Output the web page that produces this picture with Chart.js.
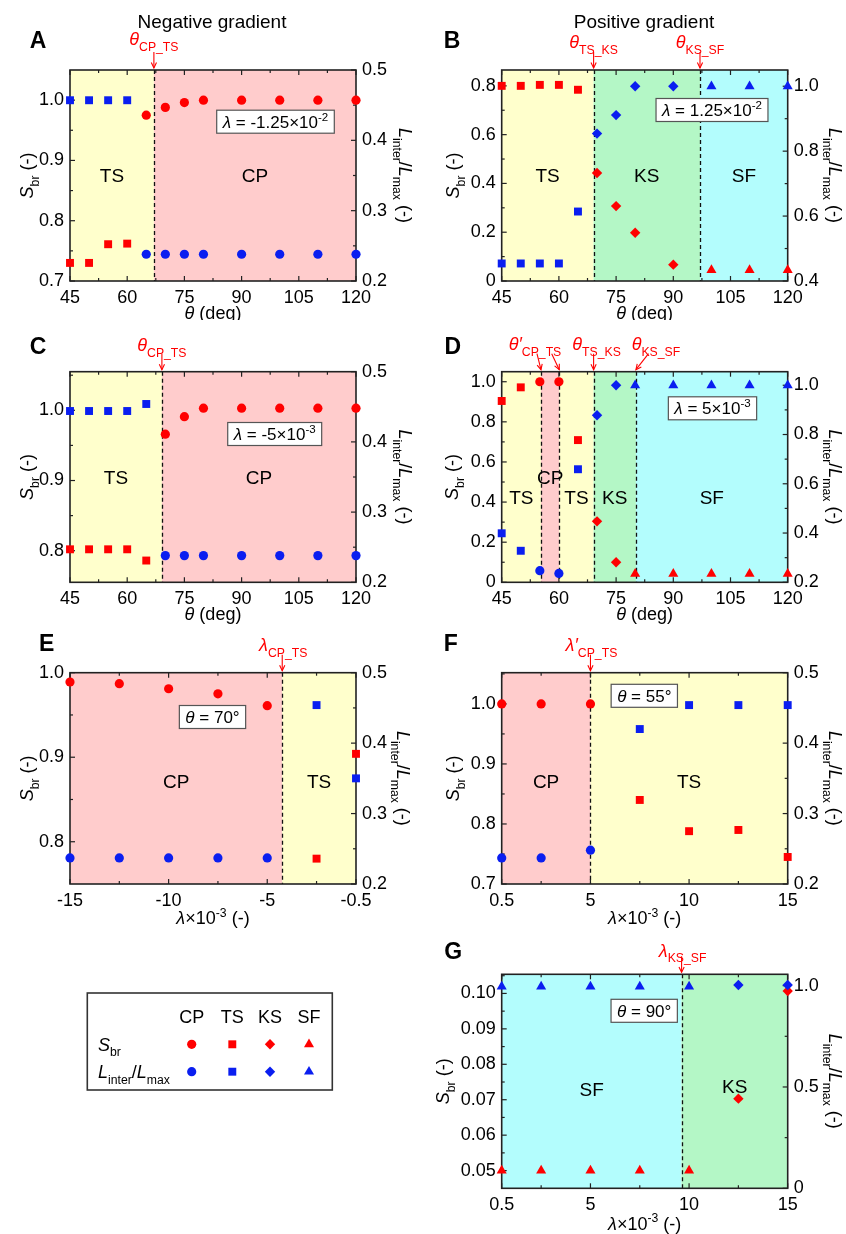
<!DOCTYPE html>
<html>
<head>
<meta charset="utf-8">
<script src="https://cdn.jsdelivr.net/npm/chart.js@4.4.0/dist/chart.umd.min.js"></script>
<style>
  body { margin: 0; background: #fff; width: 846px; height: 1234px; position: relative; overflow: hidden; }
  canvas { position: absolute; }
</style>
</head>
<body>
<canvas id="cA"></canvas>
<canvas id="cB"></canvas>
<canvas id="cC"></canvas>
<canvas id="cD"></canvas>
<canvas id="cE"></canvas>
<canvas id="cF"></canvas>
<canvas id="cG"></canvas>
<canvas id="cLegend"></canvas>
<script>
// ---- data ----
const thetaTicks = [45, 60, 75, 90, 105, 120];
const thetaMinor = [52.5, 67.5, 82.5, 97.5, 112.5];
const lamNegTicks = [-15, -10, -5, -0.5];
const lamNegMinor = [-12.5, -7.5, -2.5];
const lamPosTicks = [0.5, 5, 10, 15];
const lamPosMinor = [2.5, 7.5, 12.5];

// A: negative gradient, lambda = -1.25e-2
const thetaA = [45, 50, 55, 60, 65, 70, 75, 80, 90, 100, 110, 120];
const sbrA = [0.730, 0.730, 0.761, 0.762, 0.975, 0.988, 0.996, 1.0, 1.0, 1.0, 1.0, 1.0];
const lenA = [0.457, 0.457, 0.457, 0.457, 0.238, 0.238, 0.238, 0.238, 0.238, 0.238, 0.238, 0.238];
const phaseA = ['TS', 'TS', 'TS', 'TS', 'CP', 'CP', 'CP', 'CP', 'CP', 'CP', 'CP', 'CP'];
const boundA = [67];
const zoneA = ['TS', 'CP'];
const sbrTicksA = [0.7, 0.8, 0.9, 1.0];
const lenTicksA = [0.2, 0.3, 0.4, 0.5];

// B: positive gradient, lambda = 1.25e-2
const thetaB = [45, 50, 55, 60, 65, 70, 75, 80, 90, 100, 110, 120];
const sbrB = [0.800, 0.800, 0.804, 0.804, 0.784, 0.443, 0.307, 0.198, 0.067, 0.045, 0.045, 0.045];
const lenB = [0.454, 0.454, 0.454, 0.454, 0.614, 0.854, 0.911, 1.0, 1.0, 1.0, 1.0, 1.0];
const phaseB = ['TS', 'TS', 'TS', 'TS', 'TS', 'KS', 'KS', 'KS', 'KS', 'SF', 'SF', 'SF'];
const boundB = [69.1, 97];
const zoneB = ['TS', 'KS', 'SF'];
const sbrTicksB = [0, 0.2, 0.4, 0.6, 0.8];
const lenTicksB = [0.4, 0.6, 0.8, 1.0];

// C: negative gradient, lambda = -5e-3
const thetaC = [45, 50, 55, 60, 65, 70, 75, 80, 90, 100, 110, 120];
const sbrC = [0.802, 0.802, 0.802, 0.802, 0.786, 0.966, 0.991, 1.003, 1.003, 1.003, 1.003, 1.003];
const lenC = [0.444, 0.444, 0.444, 0.444, 0.454, 0.238, 0.238, 0.238, 0.238, 0.238, 0.238, 0.238];
const phaseC = ['TS', 'TS', 'TS', 'TS', 'TS', 'CP', 'CP', 'CP', 'CP', 'CP', 'CP', 'CP'];
const boundC = [69.1];
const zoneC = ['TS', 'CP'];
const sbrTicksC = [0.8, 0.9, 1.0];
const lenTicksC = [0.2, 0.3, 0.4, 0.5];

// D: positive gradient, lambda = 5e-3
const thetaD = [45, 50, 55, 60, 65, 70, 75, 80, 90, 100, 110, 120];
const sbrD = [0.904, 0.972, 1.0, 1.0, 0.709, 0.304, 0.100, 0.042, 0.042, 0.042, 0.042, 0.042];
const lenD = [0.399, 0.328, 0.247, 0.236, 0.659, 0.878, 1.0, 1.0, 1.0, 1.0, 1.0, 1.0];
const phaseD = ['TS', 'TS', 'CP', 'CP', 'TS', 'KS', 'KS', 'SF', 'SF', 'SF', 'SF', 'SF'];
const boundD = [55.3, 60.1, 69.1, 80.2];
const zoneD = ['TS', 'CP', 'TS', 'KS', 'SF'];
const sbrTicksD = [0, 0.2, 0.4, 0.6, 0.8, 1.0];
const lenTicksD = [0.2, 0.4, 0.6, 0.8, 1.0];

// E: theta = 70 deg, negative lambda
const lamE = [-15, -12.5, -10, -7.5, -5, -2.5, -0.5];
const sbrE = [0.989, 0.987, 0.981, 0.975, 0.961, 0.780, 0.904];
const lenE = [0.237, 0.237, 0.237, 0.237, 0.237, 0.454, 0.350];
const phaseE = ['CP', 'CP', 'CP', 'CP', 'CP', 'TS', 'TS'];
const boundE = [-4.24];
const zoneE = ['CP', 'TS'];
const sbrTicksE = [0.8, 0.9, 1.0];
const lenTicksE = [0.2, 0.3, 0.4, 0.5];

// F: theta = 55 deg, positive lambda
const lamF = [0.5, 2.5, 5, 7.5, 10, 12.5, 15];
const sbrF = [1.0, 1.0, 1.0, 0.840, 0.788, 0.790, 0.745];
const lenF = [0.237, 0.237, 0.248, 0.420, 0.454, 0.454, 0.454];
const phaseF = ['CP', 'CP', 'CP', 'TS', 'TS', 'TS', 'TS'];
const boundF = [5];
const zoneF = ['CP', 'TS'];
const sbrTicksF = [0.7, 0.8, 0.9, 1.0];
const lenTicksF = [0.2, 0.3, 0.4, 0.5];

// G: theta = 90 deg, positive lambda
const lamG = [0.5, 2.5, 5, 7.5, 10, 12.5, 15];
const sbrG = [0.050, 0.050, 0.050, 0.050, 0.050, 0.0703, 0.1007];
const lenG = [0.995, 0.995, 0.995, 0.995, 0.995, 1.003, 1.003];
const phaseG = ['SF', 'SF', 'SF', 'SF', 'SF', 'KS', 'KS'];
const boundG = [9.62];
const zoneG = ['SF', 'KS'];
const sbrTicksG = [0.05, 0.06, 0.07, 0.08, 0.09, 0.10];
const lenTicksG = [0, 0.5, 1.0];

// ---- styling ----
const FONT = '"Liberation Sans", Arial, Helvetica, sans-serif';
const RED = '#ff0000';
const BLUE = '#0a1ef0';
const PHASE_FILL = { CP: '#ffcccc', TS: '#ffffcc', KS: '#b4f7c6', SF: '#b3fdfd' };
const PHASE_STYLE = { CP: 'circle', TS: 'rect', KS: 'rectRot', SF: 'triangle' };
const PHASE_SIZE = { CP: 4.6, TS: 5.6, KS: 5.2, SF: 5.8 };

const I = t => [t, 'i'];
const N = t => [t, ''];
const SB = t => [t, 'b'];
const SP = t => [t, 'p'];
const thetaLbl = (s, prime) => [I(prime ? 'θ′' : 'θ'), SB(s)];
const lamLbl = (s, prime) => [I(prime ? 'λ′' : 'λ'), SB(s)];
const lamNote = (m, e) => [I('λ'), N(' = ' + m + '×10'), SP(e)];
const thetaNote = v => [I('θ'), N(' = ' + v + '°')];
const sbrTitle = [I('S'), SB('br'), N(' (-)')];
const lenTitle = [I('L'), SB('inter'), N('/'), I('L'), SB('max'), N(' (-)')];
const thetaTitle = [I('θ'), N(' (deg)')];
const lamTitle = [I('λ'), N('×10'), SP('-3'), N(' (-)')];

const panels = [
  { id: 'cA', box: [0, 0, 423, 320], plot: [70, 70, 356, 281],
    xs: thetaA, sbr: sbrA, len: lenA, phase: phaseA, bounds: boundA, zones: zoneA, zoneDy: [0, 0],
    xr: [45, 120], xt: thetaTicks, xm: thetaMinor,
    yr: [0.7, 1.05], yt: sbrTicksA, yd: 1, y2r: [0.2, 0.5], y2t: lenTicksA, y2d: 1,
    marks: [{ at: 67, dx: 0, label: thetaLbl('CP_TS'), arrows: [[67, 0]] }], markY: -31,
    note: { parts: lamNote('-1.25', '-2'), cx: 275.5, cy: 121.7 },
    letter: ['A', 38, 42], head: ['Negative gradient', 212, 21],
    xTitle: thetaTitle, xTitleDy: 32, lTitleX: 27, rTitleX: 405 },
  { id: 'cB', box: [423, 0, 846, 320], plot: [501.7, 70, 787.7, 281],
    xs: thetaB, sbr: sbrB, len: lenB, phase: phaseB, bounds: boundB, zones: zoneB, zoneDy: [0, 0, 0],
    xr: [45, 120], xt: thetaTicks, xm: thetaMinor,
    yr: [0, 0.865], yt: sbrTicksB, yd: 1, y2r: [0.4, 1.05], y2t: lenTicksB, y2d: 1,
    marks: [{ at: 69.1, dx: 0, label: thetaLbl('TS_KS'), arrows: [[69.1, 0]] },
            { at: 97, dx: 0, label: thetaLbl('KS_SF'), arrows: [[97, 0]] }], markY: -28,
    note: { parts: lamNote('1.25', '-2'), cx: 712, cy: 110 },
    letter: ['B', 452, 42], head: ['Positive gradient', 644, 21],
    xTitle: thetaTitle, xTitleDy: 32, lTitleX: 453, rTitleX: 835 },
  { id: 'cC', box: [0, 320, 423, 630], plot: [70, 371.7, 356, 582.3],
    xs: thetaC, sbr: sbrC, len: lenC, phase: phaseC, bounds: boundC, zones: zoneC, zoneDy: [0, 0],
    xr: [45, 120], xt: thetaTicks, xm: thetaMinor,
    yr: [0.755, 1.055], yt: sbrTicksC, yd: 1, y2r: [0.2, 0.5], y2t: lenTicksC, y2d: 1,
    marks: [{ at: 69.1, dx: 0, label: thetaLbl('CP_TS'), arrows: [[69.1, 0]] }], markY: -27,
    note: { parts: lamNote('-5', '-3'), cx: 274.7, cy: 434 },
    letter: ['C', 38, 348],
    xTitle: thetaTitle, xTitleDy: 31, lTitleX: 27, rTitleX: 405 },
  { id: 'cD', box: [423, 320, 846, 630], plot: [501.7, 371.7, 787.7, 582.3],
    xs: thetaD, sbr: sbrD, len: lenD, phase: phaseD, bounds: boundD, zones: zoneD, zoneDy: [20, 0, 20, 20, 20],
    xr: [45, 120], xt: thetaTicks, xm: thetaMinor,
    yr: [0, 1.05], yt: sbrTicksD, yd: 1, y2r: [0.2, 1.055], y2t: lenTicksD, y2d: 1,
    marks: [{ at: 55.3, dx: -6, label: thetaLbl('CP_TS', true), arrows: [[55.3, -4], [60.1, -7.6]] },
            { at: 69.1, dx: 3, label: thetaLbl('TS_KS'), arrows: [[69.1, 0]] },
            { at: 80.2, dx: 20, label: thetaLbl('KS_SF'), arrows: [[80.2, 12.6]] }], markY: -28,
    note: { parts: lamNote('5', '-3'), cx: 712.5, cy: 408.3 },
    letter: ['D', 452.7, 348],
    xTitle: thetaTitle, xTitleDy: 31, lTitleX: 452, rTitleX: 835 },
  { id: 'cE', box: [0, 630, 423, 940], plot: [70, 672.7, 356, 884],
    xs: lamE, sbr: sbrE, len: lenE, phase: phaseE, bounds: boundE, zones: zoneE, zoneDy: [3, 3],
    xr: [-15, -0.5], xt: lamNegTicks, xm: lamNegMinor,
    yr: [0.75, 1.0], yt: sbrTicksE, yd: 1, y2r: [0.2, 0.5], y2t: lenTicksE, y2d: 1,
    marks: [{ at: -4.24, dx: 1, label: lamLbl('CP_TS'), arrows: [[-4.24, 0]] }], markY: -28,
    note: { parts: thetaNote('70'), cx: 212.5, cy: 717 },
    letter: ['E', 46.7, 645],
    xTitle: lamTitle, xTitleDy: 34, lTitleX: 27, rTitleX: 403 },
  { id: 'cF', box: [423, 630, 846, 940], plot: [501.7, 672.7, 787.7, 884],
    xs: lamF, sbr: sbrF, len: lenF, phase: phaseF, bounds: boundF, zones: zoneF, zoneDy: [3, 3],
    xr: [0.5, 15], xt: lamPosTicks, xm: lamPosMinor,
    yr: [0.7, 1.052], yt: sbrTicksF, yd: 1, y2r: [0.2, 0.5], y2t: lenTicksF, y2d: 1,
    marks: [{ at: 5, dx: 1, label: lamLbl('CP_TS', true), arrows: [[5, 0]] }], markY: -28,
    note: { parts: thetaNote('55'), cx: 644.3, cy: 695.8 },
    letter: ['F', 450.7, 645],
    xTitle: lamTitle, xTitleDy: 34, lTitleX: 453, rTitleX: 835 },
  { id: 'cG', box: [423, 940, 846, 1234], plot: [501.7, 974.3, 787.7, 1188.3],
    xs: lamG, sbr: sbrG, len: lenG, phase: phaseG, bounds: boundG, zones: zoneG, zoneDy: [8, 5],
    xr: [0.5, 15], xt: lamPosTicks, xm: lamPosMinor,
    yr: [0.045, 0.1054], yt: sbrTicksG, yd: 2, y2r: [0, 1.056], y2t: lenTicksG, y2d: 1,
    marks: [{ at: 9.62, dx: 1, label: lamLbl('KS_SF'), arrows: [[9.62, 0]] }], markY: -24,
    note: { parts: thetaNote('90'), cx: 644.2, cy: 1010.8 },
    letter: ['G', 453.3, 953],
    xTitle: lamTitle, xTitleDy: 35, lTitleX: 443, rTitleX: 835 }
];

// ---- text helpers ----
function richItems(ctx, parts, size) {
  return parts.map(([t, s]) => {
    const small = s === 'b' || s === 'p';
    const fs = small ? size * 0.68 : size;
    const font = (s === 'i' ? 'italic ' : '') + fs + 'px ' + FONT;
    ctx.font = font;
    return { t, font, w: ctx.measureText(t).width, dy: s === 'b' ? size * 0.3 : s === 'p' ? -size * 0.42 : 0 };
  });
}
function richWidth(ctx, parts, size) {
  return richItems(ctx, parts, size).reduce((a, it) => a + it.w, 0);
}
function drawRich(ctx, parts, x, y, size, align, color) {
  ctx.save();
  ctx.fillStyle = color || '#000';
  ctx.textBaseline = 'alphabetic';
  ctx.textAlign = 'left';
  const items = richItems(ctx, parts, size);
  const W = items.reduce((a, it) => a + it.w, 0);
  let cx = align === 'center' ? x - W / 2 : align === 'right' ? x - W : x;
  const base = y + size * 0.36;
  items.forEach(it => { ctx.font = it.font; ctx.fillText(it.t, cx, base + it.dy); cx += it.w; });
  ctx.restore();
}
function fmt(d) {
  return v => (v === 0 ? '0' : v.toFixed(d));
}

function decoPlugin(p) {
  const ox = p.box[0], oy = p.box[1];
  return {
    id: 'deco' + p.id,
    beforeDatasetsDraw(chart) {
      const { ctx, chartArea: a, scales: { x, y, y2 } } = chart;
      ctx.save();
      // regime zones
      const edges = [p.xr[0], ...p.bounds, p.xr[1]];
      p.zones.forEach((z, i) => {
        const x0 = x.getPixelForValue(edges[i]);
        const x1 = x.getPixelForValue(edges[i + 1]);
        ctx.fillStyle = PHASE_FILL[z];
        ctx.fillRect(x0, a.top, x1 - x0, a.bottom - a.top);
      });
      // boundaries
      ctx.strokeStyle = '#111';
      ctx.lineWidth = 1.3;
      ctx.setLineDash([4, 3]);
      p.bounds.forEach(b => {
        const X = Math.round(x.getPixelForValue(b)) + 0.5;
        ctx.beginPath(); ctx.moveTo(X, a.top); ctx.lineTo(X, a.bottom); ctx.stroke();
      });
      ctx.setLineDash([]);
      // frame
      ctx.strokeStyle = '#222';
      ctx.lineWidth = 1.6;
      ctx.strokeRect(a.left, a.top, a.right - a.left, a.bottom - a.top);
      // inward ticks
      ctx.lineWidth = 1.2;
      const tk = (x0, y0, dx, dy) => { ctx.beginPath(); ctx.moveTo(x0, y0); ctx.lineTo(x0 + dx, y0 + dy); ctx.stroke(); };
      p.xt.forEach(v => { const X = x.getPixelForValue(v); tk(X, a.bottom, 0, -5); tk(X, a.top, 0, 5); });
      p.xm.forEach(v => { const X = x.getPixelForValue(v); tk(X, a.bottom, 0, -3); tk(X, a.top, 0, 3); });
      const minors = (t, r) => {
        const out = [];
        const st = t.length > 1 ? t[1] - t[0] : 0.1;
        const all = [t[0] - st / 2, ...t.map(v => v + st / 2)];
        all.forEach(v => { if (v > r[0] + 1e-9 && v < r[1] - 1e-9) out.push(v); });
        return out;
      };
      p.yt.forEach(v => tk(a.left, y.getPixelForValue(v), 5, 0));
      minors(p.yt, p.yr).forEach(v => tk(a.left, y.getPixelForValue(v), 3, 0));
      p.y2t.forEach(v => tk(a.right, y2.getPixelForValue(v), -5, 0));
      minors(p.y2t, p.y2r).forEach(v => tk(a.right, y2.getPixelForValue(v), -3, 0));
      ctx.restore();
    },
    afterDraw(chart) {
      const { ctx, scales: { x } } = chart;
      const px = v => x.getPixelForValue(v) + ox;
      const [pl, pt, pr, pb] = p.plot;
      ctx.save();
      ctx.translate(-ox, -oy);
      // regime labels
      const edges = [p.xr[0], ...p.bounds, p.xr[1]];
      p.zones.forEach((z, i) => {
        const cx = (px(edges[i]) + px(edges[i + 1])) / 2;
        drawRich(ctx, [N(z)], cx, (pt + pb) / 2 + p.zoneDy[i], 19, 'center');
      });
      // parameter box
      const nw = richWidth(ctx, p.note.parts, 17) + 12;
      ctx.fillStyle = '#fff';
      ctx.fillRect(p.note.cx - nw / 2, p.note.cy - 11.5, nw, 23);
      ctx.strokeStyle = '#555';
      ctx.lineWidth = 1.2;
      ctx.strokeRect(p.note.cx - nw / 2, p.note.cy - 11.5, nw, 23);
      drawRich(ctx, p.note.parts, p.note.cx, p.note.cy, 17, 'center');
      // transition markers
      ctx.strokeStyle = RED;
      ctx.lineWidth = 1.1;
      p.marks.forEach(m => {
        drawRich(ctx, m.label, px(m.at) + m.dx, pt + p.markY, 18, 'center', RED);
        m.arrows.forEach(([tip, tdx]) => {
          const tx = px(tip), ty = pt - 2;
          const sx = tx + tdx, sy = pt - 18;
          ctx.beginPath(); ctx.moveTo(sx, sy); ctx.lineTo(tx, ty); ctx.stroke();
          const ang = Math.atan2(ty - sy, tx - sx);
          ctx.beginPath();
          ctx.moveTo(tx - 6 * Math.cos(ang - 0.45), ty - 6 * Math.sin(ang - 0.45));
          ctx.lineTo(tx, ty);
          ctx.lineTo(tx - 6 * Math.cos(ang + 0.45), ty - 6 * Math.sin(ang + 0.45));
          ctx.stroke();
        });
      });
      // axis titles
      drawRich(ctx, p.xTitle, (pl + pr) / 2, pb + p.xTitleDy, 18, 'center');
      ctx.save();
      ctx.translate(p.lTitleX, (pt + pb) / 2);
      ctx.rotate(-Math.PI / 2);
      drawRich(ctx, sbrTitle, 0, 0, 18, 'center');
      ctx.restore();
      ctx.save();
      ctx.translate(p.rTitleX, (pt + pb) / 2);
      ctx.rotate(Math.PI / 2);
      drawRich(ctx, lenTitle, 0, 0, 18, 'center');
      ctx.restore();
      // panel letter and column heading
      ctx.fillStyle = '#000';
      ctx.font = 'bold 23px ' + FONT;
      ctx.textAlign = 'center';
      ctx.textBaseline = 'middle';
      ctx.fillText(p.letter[0], p.letter[1], p.letter[2]);
      if (p.head) drawRich(ctx, [N(p.head[0])], p.head[1], p.head[2], 19, 'center');
      ctx.restore();
    }
  };
}

function makeAxis(pos, range, ticks, fmtFn, fitFn) {
  return {
    type: 'linear', position: pos, min: range[0], max: range[1],
    afterBuildTicks: s => { s.ticks = ticks.map(v => ({ value: v })); },
    afterFit: fitFn,
    ticks: { callback: fmtFn, font: { size: 18, family: FONT }, color: '#000', padding: 6,
             autoSkip: false, maxRotation: 0, minRotation: 0 },
    grid: { display: false, drawTicks: false },
    border: { display: false }
  };
}

panels.forEach(p => {
  const [bl, bt, br, bb] = p.box;
  const [pl, pt, pr, pb] = p.plot;
  const cv = document.getElementById(p.id);
  cv.width = br - bl; cv.height = bb - bt;
  cv.style.left = bl + 'px'; cv.style.top = bt + 'px';
  cv.style.width = (br - bl) + 'px'; cv.style.height = (bb - bt) + 'px';
  const styles = p.phase.map(s => PHASE_STYLE[s]);
  const sizes = p.phase.map(s => PHASE_SIZE[s]);
  new Chart(cv, {
    type: 'scatter',
    data: {
      datasets: [
        { label: 'S_br', data: p.xs.map((v, i) => ({ x: v, y: p.sbr[i] })), yAxisID: 'y',
          backgroundColor: RED, borderColor: RED, borderWidth: 0,
          pointStyle: styles, pointRadius: sizes, clip: false, order: 2 },
        { label: 'L_inter/L_max', data: p.xs.map((v, i) => ({ x: v, y: p.len[i] })), yAxisID: 'y2',
          backgroundColor: BLUE, borderColor: BLUE, borderWidth: 0,
          pointStyle: styles, pointRadius: sizes, clip: false, order: 1 }
      ]
    },
    options: {
      responsive: false, animation: false, events: [],
      layout: { padding: { top: pt - bt, left: 0, right: 0, bottom: 0 } },
      plugins: { legend: { display: false }, tooltip: { enabled: false } },
      scales: {
        x: makeAxis('bottom', p.xr, p.xt, v => String(v), s => { s.height = bb - pb; }),
        y: makeAxis('left', p.yr, p.yt, fmt(p.yd), s => { s.width = pl - bl; }),
        y2: makeAxis('right', p.y2r, p.y2t, fmt(p.y2d), s => { s.width = br - pr; })
      }
    },
    plugins: [decoPlugin(p)]
  });
});

// ---- legend box ----
(function () {
  const cv = document.getElementById('cLegend');
  const L = 0, T = 940, W = 423, H = 294;
  cv.width = W; cv.height = H;
  cv.style.left = L + 'px'; cv.style.top = T + 'px';
  cv.style.width = W + 'px'; cv.style.height = H + 'px';
  const ctx = cv.getContext('2d');
  ctx.translate(-L, -T);
  ctx.strokeStyle = '#333';
  ctx.lineWidth = 1.6;
  ctx.strokeRect(87.3, 993, 245, 97);
  const cols = { CP: 191.7, TS: 232.3, KS: 270, SF: 309 };
  const shape = (style, x, y, r, color) => {
    ctx.fillStyle = color;
    ctx.beginPath();
    if (style === 'circle') ctx.arc(x, y, r, 0, Math.PI * 2);
    else if (style === 'rect') { const s = r * Math.SQRT1_2; ctx.rect(x - s, y - s, 2 * s, 2 * s); }
    else if (style === 'rectRot') { ctx.moveTo(x, y - r); ctx.lineTo(x + r, y); ctx.lineTo(x, y + r); ctx.lineTo(x - r, y); }
    else { ctx.moveTo(x, y - r); ctx.lineTo(x + r * 0.866, y + r / 2); ctx.lineTo(x - r * 0.866, y + r / 2); }
    ctx.closePath();
    ctx.fill();
  };
  Object.keys(cols).forEach(k => {
    drawRich(ctx, [N(k)], cols[k], 1016.7, 18, 'center');
    shape(PHASE_STYLE[k], cols[k], 1044.3, PHASE_SIZE[k], RED);
    shape(PHASE_STYLE[k], cols[k], 1071.7, PHASE_SIZE[k], BLUE);
  });
  drawRich(ctx, [I('S'), SB('br')], 98, 1044.3, 18, 'left');
  drawRich(ctx, [I('L'), SB('inter'), N('/'), I('L'), SB('max')], 98, 1071.7, 18, 'left');
})();
</script>
</body>
</html>
